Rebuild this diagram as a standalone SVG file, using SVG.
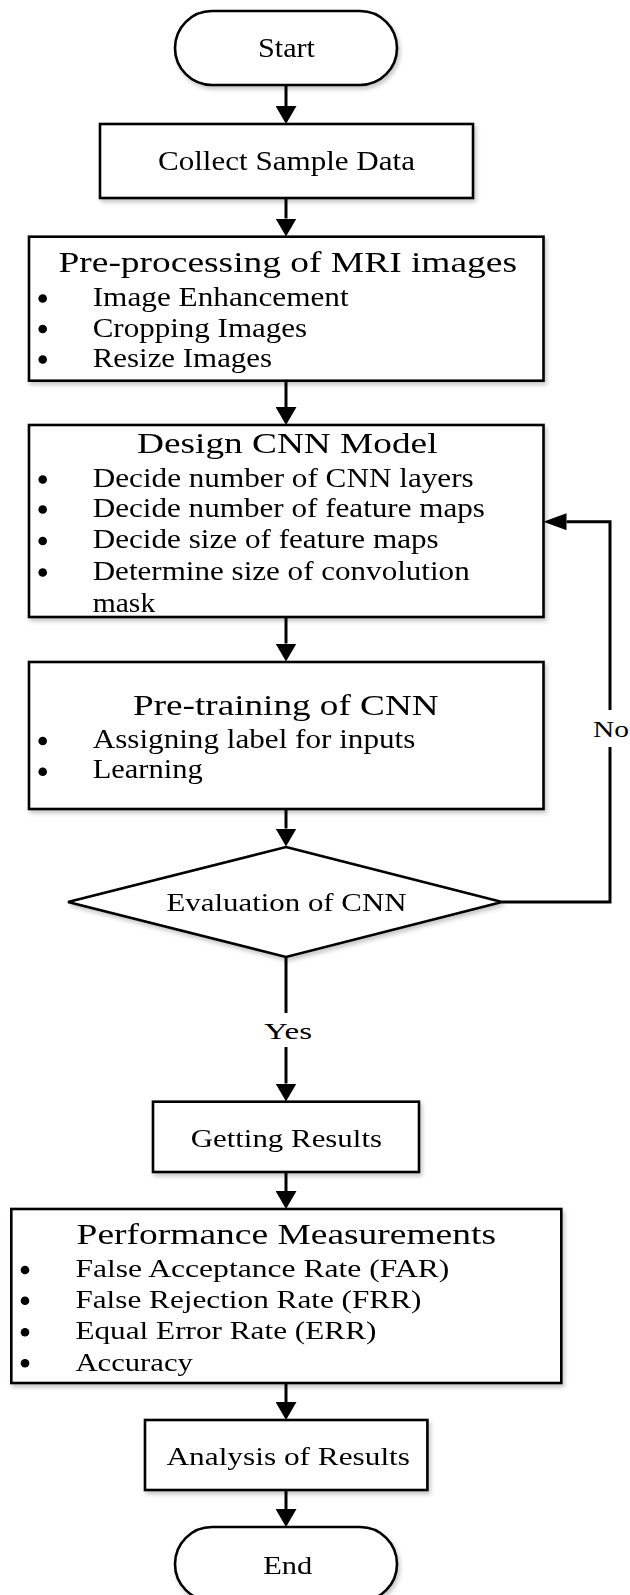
<svg xmlns="http://www.w3.org/2000/svg" width="630" height="1595" viewBox="0 0 630 1595">
  <style>
    .shape { fill: #ffffff; stroke: #000000; stroke-width: 2.6; }
    .conn { fill: none; stroke: #000000; stroke-width: 3; }
    text { font-family: "Liberation Serif", "Times New Roman", serif; fill: #000000; }
    .t28 { font-size: 28px; }
    .t30 { font-size: 30px; }
    .t26 { font-size: 26px; }
    .t24 { font-size: 24px; }
    .dot { fill: #000000; }
  </style>
  <defs>
    <filter id="soft" x="-10%" y="-10%" width="125%" height="130%">
      <feDropShadow dx="2" dy="3" stdDeviation="2" flood-color="#000000" flood-opacity="0.22"/>
    </filter>
    <marker id="arrow-v" markerUnits="userSpaceOnUse" viewBox="0 0 18 21" refX="0" refY="10.5" markerWidth="18" markerHeight="21" orient="auto">
      <path d="M0,0 L18,10.5 L0,21 Z" fill="#000000"/>
    </marker>
    <marker id="arrow-h" markerUnits="userSpaceOnUse" viewBox="0 0 23 17" refX="0" refY="8.5" markerWidth="23" markerHeight="17" orient="auto">
      <path d="M0,0 L23,8.5 L0,17 Z" fill="#000000"/>
    </marker>
  </defs>

  <rect width="630" height="1595" fill="#ffffff"/>

  <!-- connectors -->
  <g id="connectors">
    <path class="conn" d="M286,85 V106" marker-end="url(#arrow-v)"/>
    <path class="conn" d="M286,198 V218.5" marker-end="url(#arrow-v)"/>
    <path class="conn" d="M286,381 V407" marker-end="url(#arrow-v)"/>
    <path class="conn" d="M286,617 V643.5" marker-end="url(#arrow-v)"/>
    <path class="conn" d="M286,809 V828.5" marker-end="url(#arrow-v)"/>
    <path class="conn" d="M286,957 V1013"/>
    <path class="conn" d="M286,1047 V1083.5" marker-end="url(#arrow-v)"/>
    <path class="conn" d="M286,1172 V1191" marker-end="url(#arrow-v)"/>
    <path class="conn" d="M286,1383 V1402" marker-end="url(#arrow-v)"/>
    <path class="conn" d="M286,1490 V1509" marker-end="url(#arrow-v)"/>
    <!-- "No" feedback loop -->
    <path class="conn" d="M502,902 H610 V747"/>
    <path class="conn" d="M610,710 V521.7 H566.5" marker-end="url(#arrow-h)"/>
    <text class="t24" x="593" y="737" textLength="36" lengthAdjust="spacingAndGlyphs">No</text>
    <text class="t24" x="264" y="1039" textLength="48" lengthAdjust="spacingAndGlyphs">Yes</text>
  </g>

  <g id="start" filter="url(#soft)">
    <rect class="shape" x="175" y="11" width="222" height="74" rx="37" ry="37"/>
    <text class="t28" x="258" y="57" textLength="57" lengthAdjust="spacingAndGlyphs">Start</text>
  </g>

  <g id="collect" filter="url(#soft)">
    <rect class="shape" x="100" y="124" width="373" height="74"/>
    <text class="t28" x="158" y="170" textLength="257" lengthAdjust="spacingAndGlyphs">Collect Sample Data</text>
  </g>

  <g id="preprocessing" filter="url(#soft)">
    <rect class="shape" x="29" y="236.7" width="514.5" height="144"/>
    <text class="t30" x="58.5" y="271.7" textLength="458.5" lengthAdjust="spacingAndGlyphs">Pre-processing of MRI images</text>
    <circle class="dot" cx="42.7" cy="298.5" r="4.3"/>
    <circle class="dot" cx="42.7" cy="329" r="4.3"/>
    <circle class="dot" cx="42.7" cy="359.5" r="4.3"/>
    <text class="t28" x="92.7" y="306" textLength="256" lengthAdjust="spacingAndGlyphs">Image Enhancement</text>
    <text class="t28" x="92.7" y="336.7" textLength="214.5" lengthAdjust="spacingAndGlyphs">Cropping Images</text>
    <text class="t28" x="92.7" y="366.7" textLength="179.4" lengthAdjust="spacingAndGlyphs">Resize Images</text>
  </g>

  <g id="design-cnn" filter="url(#soft)">
    <rect class="shape" x="29" y="425" width="514.5" height="192"/>
    <text class="t30" x="137" y="453.3" textLength="300.5" lengthAdjust="spacingAndGlyphs">Design CNN Model</text>
    <circle class="dot" cx="42.7" cy="479.5" r="4.3"/>
    <circle class="dot" cx="42.7" cy="509.5" r="4.3"/>
    <circle class="dot" cx="42.7" cy="541" r="4.3"/>
    <circle class="dot" cx="42.7" cy="572.5" r="4.3"/>
    <text class="t28" x="92.7" y="487" textLength="381" lengthAdjust="spacingAndGlyphs">Decide number of CNN layers</text>
    <text class="t28" x="92.7" y="517.3" textLength="392.3" lengthAdjust="spacingAndGlyphs">Decide number of feature maps</text>
    <text class="t28" x="92.7" y="548.3" textLength="346" lengthAdjust="spacingAndGlyphs">Decide size of feature maps</text>
    <text class="t28" x="92.7" y="580" textLength="377" lengthAdjust="spacingAndGlyphs">Determine size of convolution</text>
    <text class="t28" x="92.7" y="612" textLength="62.5" lengthAdjust="spacingAndGlyphs">mask</text>
  </g>

  <g id="pre-training" filter="url(#soft)">
    <rect class="shape" x="29" y="662" width="514.5" height="147"/>
    <text class="t30" x="133" y="715" textLength="305.6" lengthAdjust="spacingAndGlyphs">Pre-training of CNN</text>
    <circle class="dot" cx="42.7" cy="741" r="4.3"/>
    <circle class="dot" cx="42.7" cy="771.7" r="4.3"/>
    <text class="t28" x="92.7" y="748" textLength="322.6" lengthAdjust="spacingAndGlyphs">Assigning label for inputs</text>
    <text class="t28" x="92.7" y="778" textLength="110" lengthAdjust="spacingAndGlyphs">Learning</text>
  </g>

  <g id="evaluation" filter="url(#soft)">
    <polygon class="shape" points="286,847 502,902 286,957 68,902"/>
    <text class="t26" x="166.5" y="910.7" textLength="240" lengthAdjust="spacingAndGlyphs">Evaluation of CNN</text>
  </g>

  <g id="getting-results" filter="url(#soft)">
    <rect class="shape" x="153" y="1101.7" width="266" height="70.3"/>
    <text class="t26" x="190.7" y="1146.5" textLength="191.3" lengthAdjust="spacingAndGlyphs">Getting Results</text>
  </g>

  <g id="performance" filter="url(#soft)">
    <rect class="shape" x="11.3" y="1209" width="550" height="174"/>
    <text class="t30" x="76.6" y="1244" textLength="419.4" lengthAdjust="spacingAndGlyphs">Performance Measurements</text>
    <circle class="dot" cx="25" cy="1270" r="4.3"/>
    <circle class="dot" cx="25" cy="1300.7" r="4.3"/>
    <circle class="dot" cx="25" cy="1332.3" r="4.3"/>
    <circle class="dot" cx="25" cy="1363.3" r="4.3"/>
    <text class="t26" x="75.4" y="1277.3" textLength="374" lengthAdjust="spacingAndGlyphs">False Acceptance Rate (FAR)</text>
    <text class="t26" x="75.4" y="1308.3" textLength="346" lengthAdjust="spacingAndGlyphs">False Rejection Rate (FRR)</text>
    <text class="t26" x="75.4" y="1339.3" textLength="301" lengthAdjust="spacingAndGlyphs">Equal Error Rate (ERR)</text>
    <text class="t26" x="75.4" y="1370.7" textLength="117.5" lengthAdjust="spacingAndGlyphs">Accuracy</text>
  </g>

  <g id="analysis" filter="url(#soft)">
    <rect class="shape" x="145" y="1420" width="282.4" height="70"/>
    <text class="t26" x="166.5" y="1465" textLength="243.5" lengthAdjust="spacingAndGlyphs">Analysis of Results</text>
  </g>

  <g id="end" filter="url(#soft)">
    <rect class="shape" x="175" y="1527" width="222" height="74" rx="37" ry="37"/>
    <text class="t26" x="263.3" y="1574" textLength="49" lengthAdjust="spacingAndGlyphs">End</text>
  </g>
</svg>
